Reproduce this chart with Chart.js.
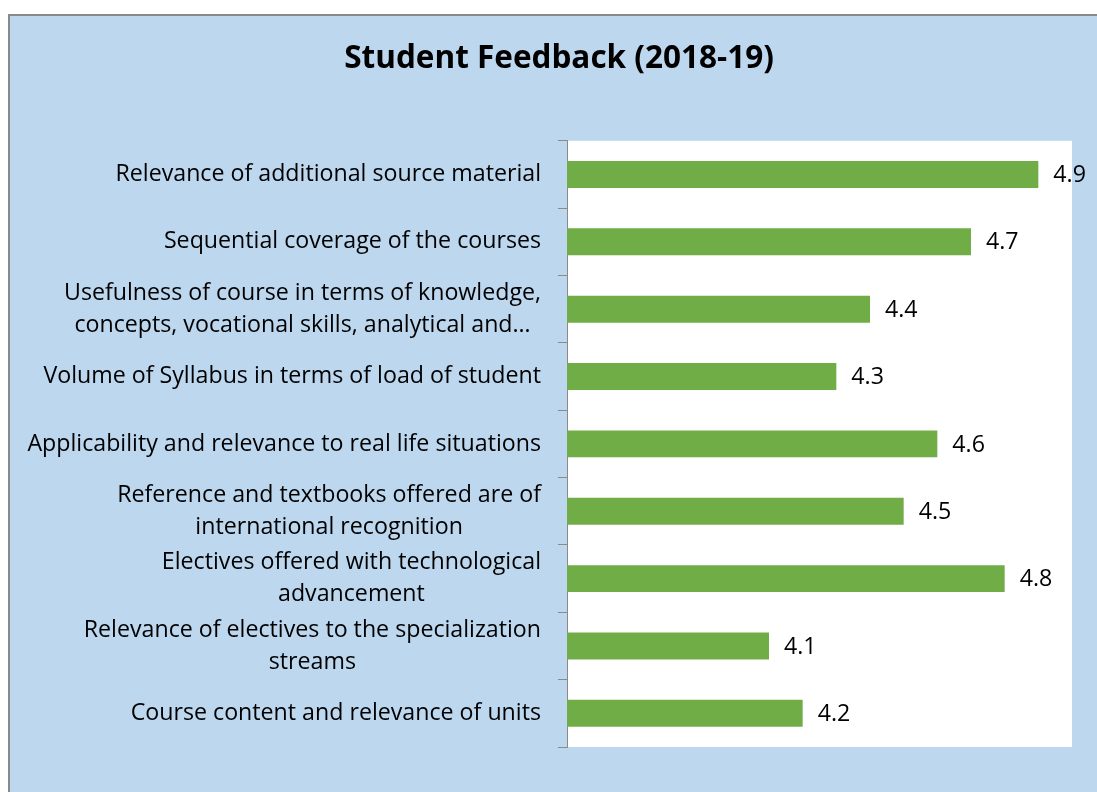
<!DOCTYPE html>
<html>
<head>
<meta charset="utf-8">
<script src="https://cdn.jsdelivr.net/npm/chart.js@4.4.0/dist/chart.umd.min.js"></script>
<style>
  html, body { margin: 0; padding: 0; background: #fff; overflow: hidden; }
  #frame {
    position: absolute; left: 8px; top: 14px;
    width: 1100px; height: 778px;
    background: #BDD7EE;
    border-left: 2px solid #8a8a8a;
    border-top: 2px solid #8a8a8a;
  }
  #wrap { position: absolute; left: 0; top: 0; width: 1098px; height: 776px; }
</style>
</head>
<body>
<div id="frame"><div id="wrap"><canvas id="feedbackChart"></canvas></div></div>
<script>
// --- data ---
const categories = [
    ['Relevance of additional source material'],
    ['Sequential coverage of the courses'],
    ['Usefulness of course in terms of knowledge,', 'concepts, vocational skills, analytical and\u2026'],
    ['Volume of Syllabus in terms of load of student'],
    ['Applicability and relevance to real life situations'],
    ['Reference and textbooks offered are of', 'international recognition'],
    ['Electives offered with technological', 'advancement'],
    ['Relevance of electives to the specialization', 'streams'],
    ['Course content and relevance of units']
];
const scores = [4.9, 4.7, 4.4, 4.3, 4.6, 4.5, 4.8, 4.1, 4.2];
const axisMin = 3.5;
const axisMax = 5.0;

const FONT = '"Open Sans", "Noto Sans", sans-serif';
const LABEL_SIZE = 23.2;

// labels centred line-by-line, block right-aligned next to the axis
const categoryLabels = {
    id: 'categoryLabels',
    afterDraw(chart) {
        const ctx = chart.ctx;
        const yScale = chart.scales.y;
        const right = yScale.right - 26;
        const lineH = 32;
        ctx.save();
        ctx.font = LABEL_SIZE + 'px ' + FONT;
        ctx.fillStyle = '#000';
        ctx.textAlign = 'center';
        ctx.textBaseline = 'middle';
        categories.forEach((lines, i) => {
            const cy = yScale.getPixelForTick(i);
            const w = Math.max(...lines.map(l => ctx.measureText(l).width));
            const cx = right - w / 2;
            lines.forEach((l, j) => {
                ctx.fillText(l, cx, cy + (j - (lines.length - 1) / 2) * lineH);
            });
        });
        ctx.restore();
    }
};

// value next to each bar
const valueLabels = {
    id: 'valueLabels',
    afterDatasetsDraw(chart) {
        const ctx = chart.ctx;
        const meta = chart.getDatasetMeta(0);
        ctx.save();
        ctx.font = LABEL_SIZE + 'px ' + FONT;
        ctx.fillStyle = '#000';
        ctx.textAlign = 'left';
        ctx.textBaseline = 'middle';
        meta.data.forEach((bar, i) => {
            ctx.fillText(scores[i].toFixed(1), bar.x + 15, bar.y + 1);
        });
        ctx.restore();
    }
};

const plotBg = {
    id: 'plotBg',
    beforeDraw(chart) {
        const a = chart.chartArea;
        chart.ctx.save();
        chart.ctx.fillStyle = '#ffffff';
        chart.ctx.fillRect(a.left, a.top, a.right - a.left, a.bottom - a.top);
        chart.ctx.restore();
    }
};

new Chart(document.getElementById('feedbackChart'), {
    type: 'bar',
    data: {
        labels: categories,
        datasets: [{
            data: scores,
            backgroundColor: '#70AD47',
            borderWidth: 0,
            categoryPercentage: 0.8,
            barPercentage: 0.5
        }]
    },
    options: {
        indexAxis: 'y',
        responsive: true,
        maintainAspectRatio: false,
        animation: false,
        layout: { padding: { left: 36, right: 36, top: 0, bottom: 45 } },
        plugins: {
            legend: { display: false },
            tooltip: { enabled: false },
            title: {
                display: true,
                text: 'Student Feedback (2018-19)',
                color: '#000',
                font: { family: FONT, size: 31.5, weight: 'bold', lineHeight: 1.2 },
                padding: { top: 24, bottom: 63 }
            }
        },
        scales: {
            x: {
                display: false,
                min: axisMin,
                max: axisMax
            },
            y: {
                afterFit(scale) { scale.width = 521; },
                ticks: { display: false },
                grid: {
                    offset: true,
                    drawOnChartArea: false,
                    color: '#8a8a8a',
                    tickLength: 9
                },
                border: { display: true, color: '#8a8a8a', width: 1 }
            }
        }
    },
    plugins: [plotBg, categoryLabels, valueLabels]
});
</script>
</body>
</html>
